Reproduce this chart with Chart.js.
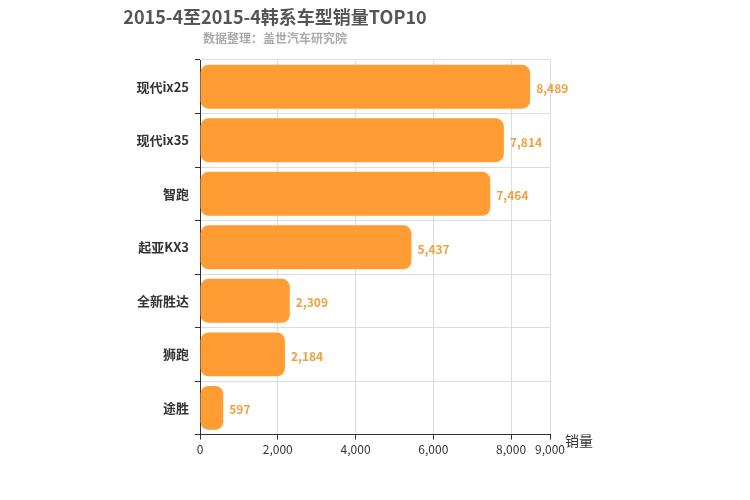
<!DOCTYPE html>
<html><head><meta charset="utf-8">
<script src="https://cdn.jsdelivr.net/npm/chart.js"></script>
<style>body{margin:0;background:#fff}#wrap{width:750px;height:500px}</style>
</head><body><div id="wrap"><canvas id="c" width="750" height="500"></canvas></div>
<script>
// Chart data
const categories = ['现代ix25', '现代ix35', '智跑', '起亚KX3', '全新胜达', '狮跑', '途胜'];
const sales = [8489, 7814, 7464, 5437, 2309, 2184, 597];
const xTicks = [0, 2000, 4000, 6000, 8000, 9000];

const FONT = '"Microsoft YaHei","Noto Sans CJK SC",sans-serif';
const fmt = v => Number(v).toLocaleString('en-US');

const endLabels = {
    id: 'endLabels',
    afterDatasetsDraw(chart){
        const ctx = chart.ctx;
        ctx.save();
        ctx.font = 'bold 12px ' + FONT;
        ctx.fillStyle = '#f0a040';
        ctx.textBaseline = 'middle';
        chart.getDatasetMeta(0).data.forEach((bar, i) => {
            ctx.fillText(fmt(sales[i]), bar.x + 6, bar.y + 2);
        });
        // axis name
        ctx.font = '14px ' + FONT;
        ctx.fillStyle = '#333';
        ctx.fillText('销量', 565, 441);
        ctx.restore();
    }
};

new Chart(document.getElementById('c'), {
    type: 'bar',
    data: {
        labels: categories,
        datasets: [{
            data: sales,
            backgroundColor: '#ff9c33',
            borderRadius: 8,
            borderSkipped: false,
            categoryPercentage: 1,
            barPercentage: 0.82
        }]
    },
    options: {
        indexAxis: 'y',
        responsive: false,
        animation: false,
        layout: { padding: { left: 0, right: 200, top: 0, bottom: 40 } },
        plugins: {
            legend: { display: false },
            tooltip: { enabled: false },
            title: { display: true, text: '2015-4至2015-4韩系车型销量TOP10', color: '#555',
                font: { family: FONT, size: 18, weight: 'bold' }, padding: { top: 6, bottom: 4 } },
            subtitle: { display: true, text: '数据整理：盖世汽车研究院', color: '#aaa',
                font: { family: FONT, size: 12, weight: 'bold' }, padding: { bottom: 14 } }
        },
        scales: {
            x: {
                min: 0, max: 9000,
                afterBuildTicks: s => { s.ticks = xTicks.map(v => ({ value: v })); },
                ticks: { color: '#333', font: { family: FONT, size: 12 }, callback: v => fmt(v), maxRotation: 0, autoSkip: false },
                grid: { color: '#ddd', tickLength: 5, tickColor: '#333' },
                border: { color: '#333' }
            },
            y: {
                afterFit: s => { s.width = 200; },
                ticks: { color: '#333', font: { family: FONT, size: 13, weight: 'bold' }, padding: 6, autoSkip: false },
                grid: { color: '#ddd', tickLength: 5, tickColor: '#333' },
                border: { color: '#333' }
            }
        }
    },
    plugins: [endLabels]
});
</script></body></html>
